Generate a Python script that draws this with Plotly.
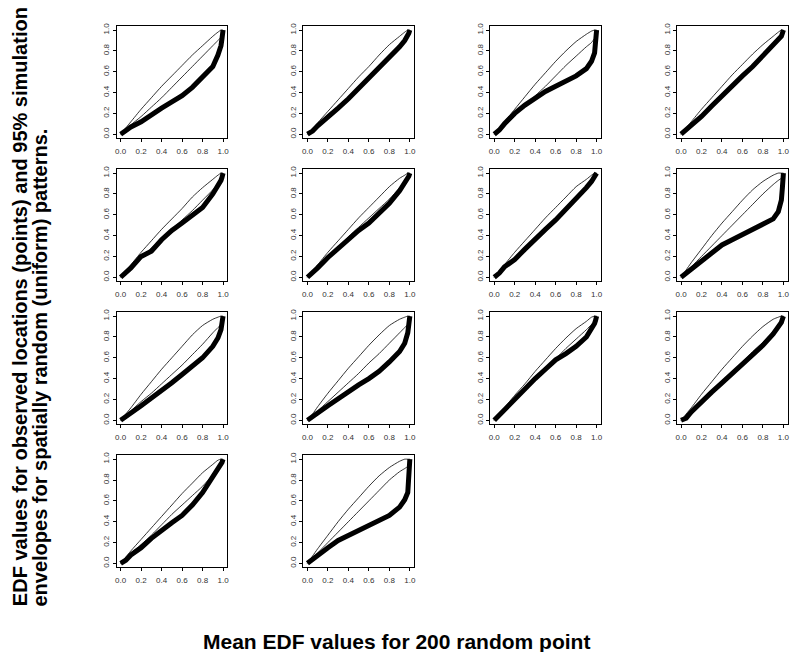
import plotly.graph_objects as go

# Common x grid (mean EDF values for random points)
x_grid = [0, 0.05, 0.1, 0.2, 0.3, 0.4, 0.5, 0.6, 0.7, 0.8, 0.9, 0.95, 0.98, 0.99, 1.0]

# Observed EDF curves (thick) per panel
obs_1 = [0, 0.04, 0.07, 0.12, 0.19, 0.25, 0.31, 0.37, 0.45, 0.55, 0.65, 0.76, 0.85, 0.92, 1.0]
obs_2 = [0, 0.03, 0.08, 0.16, 0.25, 0.34, 0.44, 0.53, 0.63, 0.73, 0.84, 0.90, 0.94, 0.97, 1.0]
obs_3 = [0, 0.04, 0.10, 0.20, 0.28, 0.35, 0.41, 0.46, 0.51, 0.56, 0.63, 0.70, 0.78, 0.88, 1.0]
obs_4 = [0, 0.04, 0.08, 0.17, 0.27, 0.37, 0.46, 0.56, 0.65, 0.75, 0.85, 0.90, 0.94, 0.97, 1.0]
obs_5 = [0, 0.04, 0.09, 0.20, 0.25, 0.36, 0.45, 0.52, 0.59, 0.67, 0.80, 0.87, 0.93, 0.96, 1.0]
obs_6 = [0, 0.04, 0.09, 0.19, 0.28, 0.37, 0.45, 0.52, 0.61, 0.71, 0.83, 0.90, 0.95, 0.97, 1.0]
obs_7 = [0, 0.04, 0.10, 0.17, 0.27, 0.37, 0.46, 0.55, 0.65, 0.75, 0.86, 0.92, 0.96, 0.98, 1.0]
obs_8 = [0, 0.04, 0.08, 0.16, 0.24, 0.31, 0.36, 0.41, 0.45, 0.50, 0.56, 0.63, 0.74, 0.86, 1.0]
obs_9 = [0, 0.03, 0.07, 0.14, 0.21, 0.28, 0.36, 0.44, 0.52, 0.60, 0.71, 0.79, 0.87, 0.93, 1.0]
obs_10 = [0, 0.04, 0.07, 0.14, 0.21, 0.28, 0.34, 0.40, 0.47, 0.56, 0.66, 0.74, 0.84, 0.92, 1.0]
obs_11 = [0, 0.05, 0.10, 0.20, 0.31, 0.40, 0.49, 0.58, 0.64, 0.71, 0.80, 0.87, 0.93, 0.96, 1.0]
obs_12 = [0, 0.02, 0.08, 0.18, 0.27, 0.36, 0.45, 0.54, 0.63, 0.72, 0.83, 0.89, 0.94, 0.97, 1.0]
obs_13 = [0, 0.03, 0.08, 0.15, 0.24, 0.32, 0.39, 0.46, 0.56, 0.68, 0.83, 0.90, 0.95, 0.97, 1.0]
obs_14 = [0, 0.04, 0.08, 0.15, 0.22, 0.27, 0.31, 0.37, 0.42, 0.46, 0.54, 0.61, 0.68, 0.82, 1.0]

# Upper 95% simulation envelopes
up_1 = [0, 0.06, 0.12, 0.24, 0.35, 0.46, 0.56, 0.66, 0.76, 0.85, 0.94, 0.98, 1.0, 1.0, 1.0]
up_2 = [0, 0.05, 0.11, 0.22, 0.33, 0.44, 0.55, 0.65, 0.76, 0.86, 0.94, 0.98, 1.0, 1.0, 1.0]
up_3 = [0, 0.06, 0.12, 0.24, 0.36, 0.48, 0.59, 0.70, 0.80, 0.89, 0.96, 0.99, 1.0, 1.0, 1.0]
up_4 = [0, 0.06, 0.12, 0.24, 0.35, 0.46, 0.57, 0.67, 0.77, 0.86, 0.94, 0.98, 1.0, 1.0, 1.0]
up_5 = [0, 0.06, 0.12, 0.24, 0.35, 0.46, 0.56, 0.66, 0.77, 0.86, 0.94, 0.98, 1.0, 1.0, 1.0]
up_6 = [0, 0.06, 0.12, 0.24, 0.35, 0.46, 0.57, 0.67, 0.77, 0.87, 0.95, 0.98, 1.0, 1.0, 1.0]
up_7 = [0, 0.06, 0.12, 0.24, 0.35, 0.46, 0.57, 0.67, 0.77, 0.87, 0.94, 0.98, 1.0, 1.0, 1.0]
up_8 = [0, 0.07, 0.14, 0.27, 0.40, 0.52, 0.63, 0.74, 0.84, 0.92, 0.98, 1.0, 1.0, 1.0, 1.0]
up_9 = [0, 0.06, 0.12, 0.25, 0.37, 0.49, 0.60, 0.71, 0.82, 0.91, 0.97, 0.99, 1.0, 1.0, 1.0]
up_10 = [0, 0.06, 0.13, 0.26, 0.38, 0.50, 0.61, 0.72, 0.82, 0.91, 0.97, 0.99, 1.0, 1.0, 1.0]
up_11 = [0, 0.06, 0.12, 0.24, 0.35, 0.47, 0.58, 0.69, 0.79, 0.88, 0.95, 0.99, 1.0, 1.0, 1.0]
up_12 = [0, 0.06, 0.12, 0.25, 0.37, 0.49, 0.60, 0.71, 0.81, 0.90, 0.97, 0.99, 1.0, 1.0, 1.0]
up_13 = [0, 0.06, 0.12, 0.23, 0.34, 0.45, 0.56, 0.67, 0.77, 0.87, 0.95, 0.99, 1.0, 1.0, 1.0]
up_14 = [0, 0.07, 0.14, 0.27, 0.40, 0.52, 0.63, 0.74, 0.84, 0.92, 0.98, 1.0, 1.0, 1.0, 1.0]

# Lower 95% simulation envelopes
lo_1 = [0, 0.045, 0.09, 0.17, 0.26, 0.35, 0.45, 0.55, 0.65, 0.75, 0.85, 0.90, 0.93, 0.94, 1.0]
lo_2 = [0, 0.04, 0.09, 0.19, 0.27, 0.36, 0.45, 0.55, 0.65, 0.75, 0.85, 0.90, 0.94, 0.96, 1.0]
lo_3 = [0, 0.04, 0.10, 0.19, 0.28, 0.37, 0.46, 0.56, 0.66, 0.75, 0.84, 0.88, 0.92, 0.93, 1.0]
lo_4 = [0, 0.05, 0.09, 0.19, 0.28, 0.38, 0.47, 0.57, 0.67, 0.76, 0.86, 0.91, 0.95, 0.97, 1.0]
lo_5 = [0, 0.05, 0.09, 0.19, 0.28, 0.37, 0.46, 0.55, 0.64, 0.74, 0.84, 0.90, 0.94, 0.96, 1.0]
lo_6 = [0, 0.05, 0.10, 0.20, 0.29, 0.39, 0.48, 0.57, 0.66, 0.75, 0.86, 0.92, 0.96, 0.98, 1.0]
lo_7 = [0, 0.05, 0.10, 0.19, 0.29, 0.38, 0.47, 0.57, 0.67, 0.77, 0.87, 0.93, 0.96, 0.98, 1.0]
lo_8 = [0, 0.05, 0.10, 0.20, 0.30, 0.40, 0.50, 0.60, 0.70, 0.80, 0.89, 0.93, 0.95, 0.96, 1.0]
lo_9 = [0, 0.04, 0.09, 0.18, 0.26, 0.35, 0.44, 0.53, 0.63, 0.73, 0.84, 0.89, 0.92, 0.94, 1.0]
lo_10 = [0, 0.04, 0.09, 0.18, 0.27, 0.36, 0.45, 0.55, 0.64, 0.74, 0.84, 0.89, 0.92, 0.93, 1.0]
lo_11 = [0, 0.05, 0.10, 0.19, 0.29, 0.39, 0.49, 0.59, 0.69, 0.78, 0.87, 0.92, 0.95, 0.97, 1.0]
lo_12 = [0, 0.05, 0.10, 0.19, 0.28, 0.38, 0.47, 0.56, 0.66, 0.75, 0.85, 0.90, 0.93, 0.95, 1.0]
lo_13 = [0, 0.05, 0.10, 0.18, 0.27, 0.37, 0.47, 0.56, 0.65, 0.74, 0.85, 0.91, 0.95, 0.97, 1.0]
lo_14 = [0, 0.05, 0.10, 0.20, 0.30, 0.40, 0.50, 0.60, 0.70, 0.80, 0.88, 0.91, 0.93, 0.94, 1.0]

observed = [obs_1, obs_2, obs_3, obs_4, obs_5, obs_6, obs_7,
            obs_8, obs_9, obs_10, obs_11, obs_12, obs_13, obs_14]
upper = [up_1, up_2, up_3, up_4, up_5, up_6, up_7,
         up_8, up_9, up_10, up_11, up_12, up_13, up_14]
lower = [lo_1, lo_2, lo_3, lo_4, lo_5, lo_6, lo_7,
         lo_8, lo_9, lo_10, lo_11, lo_12, lo_13, lo_14]

tick_vals = [0, 0.2, 0.4, 0.6, 0.8, 1.0]
tick_text = ["0.0", "0.2", "0.4", "0.6", "0.8", "1.0"]

x_title = "Mean EDF values for 200 random point"
y_title_1 = "EDF values for observed locations (points) and 95% simulation"
y_title_2 = "envelopes for spatially random (uniform) patterns."

W, H = 793, 652
fig = go.Figure()

layout_axes = {}
for i in range(len(observed)):
    r, c = divmod(i, 4)
    left = 116 + 187.5 * c
    right = left + 111
    top = 23 + 143.7 * r
    bottom = top + 113
    xd = [left / W, right / W]
    yd = [1 - bottom / H, 1 - top / H]
    n = i + 1
    xa = "x" if n == 1 else f"x{n}"
    ya = "y" if n == 1 else f"y{n}"
    for env in (upper[i], lower[i]):
        fig.add_trace(go.Scatter(x=x_grid, y=env, mode="lines",
                                 line=dict(color="black", width=0.8, shape="spline", smoothing=0.6),
                                 xaxis=xa, yaxis=ya, showlegend=False, hoverinfo="skip"))
    fig.add_trace(go.Scatter(x=x_grid, y=observed[i], mode="lines",
                             line=dict(color="black", width=5),
                             xaxis=xa, yaxis=ya, showlegend=False))
    common = dict(range=[-0.04, 1.04], showgrid=False, zeroline=False,
                  showline=True, linecolor="black", linewidth=1, mirror=True,
                  ticks="outside", ticklen=3, tickwidth=0.8, tickcolor="black",
                  tickvals=tick_vals, ticktext=tick_text,
                  tickfont=dict(family="Liberation Sans", size=8, color="#333"),
                  fixedrange=True)
    layout_axes["xaxis" if n == 1 else f"xaxis{n}"] = dict(
        domain=xd, anchor=ya, ticklabelstandoff=2, **common)
    layout_axes["yaxis" if n == 1 else f"yaxis{n}"] = dict(
        domain=yd, anchor=xa, tickangle=-90, **common)

fig.update_layout(**layout_axes)
fig.update_layout(
    width=W, height=H,
    margin=dict(l=0, r=0, t=0, b=0),
    paper_bgcolor="white", plot_bgcolor="white",
    showlegend=False,
    annotations=[
        dict(text=f"<b>{x_title}</b>", x=397.5 / W, y=1 - 641 / H,
             xref="paper", yref="paper", showarrow=False,
             xanchor="center", yanchor="middle",
             font=dict(family="Liberation Sans", size=21, color="black")),
        dict(text=f"<b>{y_title_1}</b>", x=18.5 / W, y=1 - 608 / H,
             xref="paper", yref="paper", showarrow=False, textangle=-90,
             xanchor="center", yanchor="bottom",
             font=dict(family="Liberation Sans", size=20, color="black")),
        dict(text=f"<b>{y_title_2}</b>", x=39.5 / W, y=1 - 608 / H,
             xref="paper", yref="paper", showarrow=False, textangle=-90,
             xanchor="center", yanchor="bottom",
             font=dict(family="Liberation Sans", size=20, color="black")),
    ],
)

fig.write_html("out.html",
               config={"displayModeBar": False},
               post_script="document.body.style.margin='0';document.body.style.padding='0';")
